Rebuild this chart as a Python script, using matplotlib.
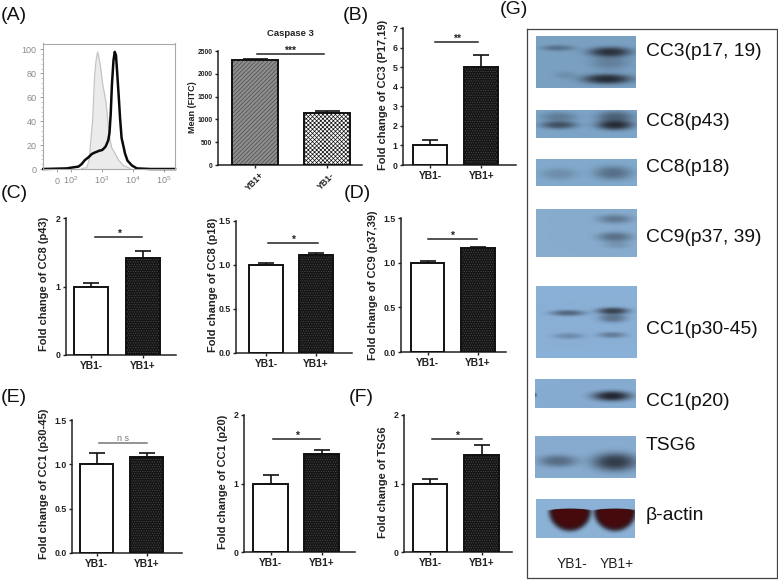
import numpy as np
import matplotlib
matplotlib.use("Agg")
import matplotlib.pyplot as plt

plt.rcParams['font.family'] = ['Liberation Sans', 'DejaVu Sans']
plt.rcParams['mathtext.default'] = 'regular'
plt.rcParams['hatch.linewidth'] = 0.5

W, H = 778, 580

# flow histogram, x in decades
flow_ctrl_x = [2.34, 2.51, 2.59, 2.63, 2.70, 2.76, 2.81, 2.86, 2.91, 2.97, 3.02, 3.08, 3.12, 3.18, 3.24, 3.31, 3.42, 3.53, 3.69, 3.90]
flow_ctrl_y = [0.5, 1, 8, 21, 41, 77, 91, 98, 92, 82, 71, 63, 57, 43, 27, 18, 13, 7.5, 3, 0.5]
flow_yb1_x = [1.11, 1.86, 2.08, 2.24, 2.34, 2.45, 2.56, 2.67, 2.75, 2.83, 2.91, 3.00, 3.06, 3.12, 3.20, 3.24, 3.28, 3.32, 3.37, 3.41, 3.45, 3.49, 3.54, 3.58, 3.63, 3.69, 3.74, 3.82, 3.96, 4.12, 4.55, 5.35]
flow_yb1_y = [0, 0.5, 1.4, 2, 4, 7.5, 9.7, 12.5, 13.6, 14.4, 15.3, 15.8, 17.2, 19, 24, 30, 46, 71, 91, 98, 95, 80, 60, 43, 26, 19, 13, 7, 3, 0.5, 0, 0]
flow_xticks = [1.55, 2, 3, 4, 5]
flow_xlabels = ['0', '$10^2$', '$10^3$', '$10^4$', '$10^5$']

# bar panels
groups = ['YB1-', 'YB1+']
groups_casp = ['YB1+', 'YB1-']
casp_mean = [2300, 1130]
casp_err = [25, 50]
cc3_mean = [1, 5]
cc3_err = [0.3, 0.6]
cc8_p43_mean = [1, 1.42]
cc8_p43_err = [0.05, 0.1]
cc8_p18_mean = [1, 1.11]
cc8_p18_err = [0.02, 0.03]
cc9_mean = [1, 1.16]
cc9_err = [0.02, 0.015]
cc1_p30_mean = [1, 1.08]
cc1_p30_err = [0.13, 0.045]
cc1_p20_mean = [1, 1.43]
cc1_p20_err = [0.12, 0.06]
tsg6_mean = [1, 1.42]
tsg6_err = [0.07, 0.14]

fig = plt.figure(figsize=(W / 100, H / 100), dpi=100)
bg = fig.add_axes([0, 0, 1, 1])
bg.set_axis_off()


def px_axes(left, right, bottom, top):
    return fig.add_axes([left / W, 1 - bottom / H, (right - left) / W, (bottom - top) / H])


def style_dark(ax, i, bar_w, val):
    # textured fill first, outline on top
    if i == 1:
        ax.bar(i, val, bar_w, facecolor='#141414', edgecolor='#4a4a4a', hatch='.......', lw=0, zorder=2)
    else:
        ax.bar(i, val, bar_w, facecolor='white', lw=0, zorder=2)


def style_casp(ax, i, bar_w, val):
    if i == 0:
        ax.bar(i, val, bar_w, facecolor='#8e8e8e', edgecolor='#4c4c4c', hatch='////////', lw=0, zorder=2)
    else:
        ax.bar(i, val, bar_w, facecolor='white', edgecolor='#111111', hatch='xxxxxxxx', lw=0, zorder=2)


def bar_panel(box, centers, bar_px, means, errs, ticks, fmt, ylabel, label_xy, sig, star='*',
              names=groups, filler=style_dark, size=6.3, rot=0, capsize=6, sig_color='#222222'):
    left, right, bottom, top = box
    ax = px_axes(left, right, bottom, top)
    step = centers[1] - centers[0]
    ax.set_xlim((left - centers[0]) / step, (right - centers[0]) / step)
    ax.set_ylim(0, ticks[-1])
    w = bar_px / step
    for i in range(2):
        filler(ax, i, w, means[i])
        ax.bar(i, means[i], w, facecolor='none', edgecolor='#111111', lw=1.4, zorder=3)
    ax.errorbar([0, 1], means, yerr=[[0, 0], errs], fmt='none', ecolor='#111111', elinewidth=1.2,
                capsize=capsize, capthick=1.2, zorder=1, clip_on=False)
    for s in ['top', 'right']:
        ax.spines[s].set_visible(False)
    for s in ['left', 'bottom']:
        ax.spines[s].set_linewidth(1.1)
        ax.spines[s].set_color('#222222')
    ax.set_yticks(ticks)
    ax.set_yticklabels([fmt.format(t) for t in ticks], fontweight='bold', fontsize=size, color='#222222')
    ax.set_xticks([0, 1])
    ax.set_xticklabels(names, fontweight='bold', fontsize=7.4 if rot == 0 else 6.3, color='#222222', rotation=rot)
    ax.tick_params(length=2.5, width=1, pad=1.5, color='#222222')
    ax.set_ylabel(ylabel, fontweight='bold', fontsize=8 if rot == 0 else 6.5, color='#222222', va='center')
    ax.yaxis.set_label_coords(label_xy[0], label_xy[1], transform=bg.transData)
    ax.plot(sig[:2], [sig[2], sig[2]], color=sig_color, lw=1.1, clip_on=False)
    ax.annotate(star, ((sig[0] + sig[1]) / 2, sig[2]), xytext=(0, 0 if star == 'n s' else -1), textcoords='offset points',
                ha='center', va='bottom', fontsize=6.5 if star == 'n s' else 7.5,
                fontweight='normal' if star == 'n s' else 'bold', color=sig_color, annotation_clip=False)
    return ax


# (A) flow histogram
flow = px_axes(43, 175, 169, 43.5)
flow.set_xlim(1.10, 5.35)
flow.set_ylim(0, 105)
flow.fill_between(flow_ctrl_x, flow_ctrl_y, color='#ebebeb', lw=0)
flow.plot(flow_ctrl_x, flow_ctrl_y, color='#c4c4c4', lw=0.9)
flow.plot(flow_yb1_x, flow_yb1_y, color='#0a0a0a', lw=1.8, clip_on=False)
flow.set_yticks([0, 20, 40, 60, 80, 100])
flow.set_yticks(np.arange(0, 101, 4), minor=True)
flow.set_xticks(flow_xticks)
flow.set_xticklabels(flow_xlabels)
flow.tick_params(labelsize=6.5, labelcolor='#8a8a8a', color='#a0a0a0', length=2.5, width=0.7, pad=2)
flow.tick_params(axis='x', pad=8)
for t in flow.get_xticklabels():
    t.set_verticalalignment('baseline')
flow.tick_params(which='minor', color='#b8b8b8', length=1.2, width=0.5)
for s in flow.spines.values():
    s.set_color('#aaaaaa')
    s.set_linewidth(0.8)

# (A) caspase bars
casp = bar_panel((218, 362, 165, 51), (255, 326.5), 46, casp_mean, casp_err,
                 [0, 500, 1000, 1500, 2000, 2500], '{:d}', 'Mean (FITC)', (193, 107),
                 (0.03, 0.96, 2434), '***', groups_casp, style_casp, 4.9, 45, 9)
casp.set_title('Caspase 3', fontweight='bold', fontsize=6.8, color='#222222', pad=10.5)

bar_panel((403, 516, 165, 28), (430, 481.5), 34, cc3_mean, cc3_err, [0, 1, 2, 3, 4, 5, 6, 7], '{:d}',
          'Fold change of CC3 (P17,19)', (383, 95), (0.1, 0.93, 6.28), '**')
bar_panel((66, 176, 355, 218), (91, 142.5), 34, cc8_p43_mean, cc8_p43_err, [0, 1, 2], '{:d}',
          'Fold change of CC8 (p43)', (44, 284), (0.08, 0.99, 1.72))
bar_panel((236, 352, 353, 221), (266, 316), 33.5, cc8_p18_mean, cc8_p18_err, [0, 0.5, 1.0, 1.5], '{:.1f}',
          'Fold change of CC8 (p18)', (213, 285), (0.04, 1.04, 1.25))
bar_panel((401, 506, 352, 218), (427.5, 478), 33.5, cc9_mean, cc9_err, [0, 0.5, 1.0, 1.5], '{:.1f}',
          'Fold change of CC9 (p37,39)', (373, 285), (0, 0.98, 1.265))
bar_panel((72, 182, 553, 420), (96.5, 146.5), 33, cc1_p30_mean, cc1_p30_err, [0, 0.5, 1.0, 1.5], '{:.1f}',
          'Fold change of CC1 (p30-45)', (44, 484), (0.05, 1.0, 1.24), 'n s', sig_color='#777777')
bar_panel((244, 355, 552, 415), (270.5, 321.5), 34.5, cc1_p20_mean, cc1_p20_err, [0, 1, 2], '{:d}',
          'Fold change of CC1 (p20)', (223, 482), (0.05, 0.98, 1.65))
bar_panel((404, 512, 552, 415), (430, 481.5), 34.5, tsg6_mean, tsg6_err, [0, 1, 2], '{:d}',
          'Fold change of TSG6', (383, 482), (0.04, 1.0, 1.65))

# (G) blots: name, box, background, bands (x, y, half width, half height, strength)
dark_band = (30, 32, 40)
blots = [
    ('CC3(p17, 19)', 52, (536, 636, 36, 88), (122, 160, 194), [
        (558, 48, 16, 3, 0.35), (610, 52, 21, 5, 0.85), (610, 62, 19, 8, 0.25),
        (607, 79, 24, 5, 0.9), (565, 75, 11, 4, 0.12)]),
    ('CC8(p43)', 122, (536, 637, 110, 138), (125, 165, 200), [
        (559, 125, 18, 4, 0.62), (559, 117, 18, 5, 0.3), (615, 125, 18, 5, 0.9), (615, 117, 18, 6, 0.5)]),
    ('CC8(p18)', 168, (536, 637, 159, 186), (130, 170, 205), [
        (559, 174, 18, 6, 0.2), (613, 173, 19, 7, 0.42)]),
    ('CC9(p37, 39)', 237, (536, 637, 209, 257), (135, 172, 206), [
        (615, 219, 17, 4.5, 0.35), (615, 237, 17, 5, 0.42), (617, 245, 13, 3.5, 0.15)]),
    ('CC1(p30-45)', 330, (536, 637, 286, 358), (138, 176, 214), [
        (568, 313, 17, 3, 0.5), (613, 311, 16, 3.5, 0.75), (613, 318, 14, 4.5, 0.42),
        (569, 336, 15, 3, 0.25), (612, 335, 14, 3, 0.35)]),
    ('CC1(p20)', 401, (535, 636, 379, 408), (135, 172, 210), [
        (612, 396, 19, 5, 0.95), (535, 395, 2, 2, 0.5)]),
    ('TSG6', 446, (535, 636, 436, 478), (135, 172, 208), [
        (558, 461, 19, 6, 0.45), (615, 462, 22, 9, 0.8)]),
]


def blot_image(box, back, bands, colour=dark_band):
    x0, x1, y0, y1 = box
    xx, yy = np.meshgrid(np.arange(x0, x1) + 0.5, np.arange(y0, y1) + 0.5)
    img = np.ones(xx.shape + (3,)) * np.array(back, dtype=float)
    for bx, by, hw, hy, strength in bands:
        d = ((xx - bx) / hw) ** 2 + ((yy - by) / hy) ** 2
        a = (strength * np.exp(-d ** 1.3))[..., None]
        img = img * (1 - a) + np.array(colour, dtype=float) * a
    return img


for name, label_y, box, back, bands in blots:
    bg.imshow(blot_image(box, back, bands) / 255, extent=(box[0], box[1], box[3], box[2]),
              interpolation='bilinear', aspect='auto')
    bg.text(646, label_y, name, fontsize=13.9, color='#111111', va='center', ha='left')

# beta-actin, half moon bands
actin_box = (536, 635, 499, 538)
actin_img = blot_image(actin_box, (140, 178, 214), [])
xx, yy = np.meshgrid(np.arange(536, 635) + 0.5, np.arange(499, 538) + 0.5)
for cx in (570, 615):
    hy = np.where(yy < 511, 2.5, 20)
    d = ((xx - cx) / 21) ** 2 + ((yy - 511) / hy) ** 2
    for colour, scale in (((20, 10, 15), 1.0), ((72, 10, 12), 0.8)):
        a = np.exp(-(d / scale) ** 4)[..., None]
        actin_img = actin_img * (1 - a) + np.array(colour, dtype=float) * a
bg.imshow(actin_img / 255, extent=(536, 635, 538, 499), interpolation='bilinear', aspect='auto')
bg.text(646, 516, 'β-actin', fontsize=13.9, color='#111111', va='center', ha='left')

bg.text(572.5, 564, 'YB1-', fontsize=10, color='#222222', ha='center', va='center')
bg.text(616.5, 564, 'YB1+', fontsize=10, color='#222222', ha='center', va='center')

# frame round (G)
bg.plot([527, 777, 777, 527, 527], [29, 29, 578, 578, 29], color='#444444', lw=0.9, clip_on=False)

# panel letters
panel_letters = ['(A)', '(B)', '(C)', '(D)', '(E)', '(F)', '(G)']
letter_x = [1, 343, 1, 344, 1, 349, 500]
letter_y = [16, 16, 193, 193, 397, 397, 10]
for s, x, y in zip(panel_letters, letter_x, letter_y):
    bg.text(x, y, s, fontsize=14, color='#111111', va='center', ha='left')

bg.set_xlim(0, W)
bg.set_ylim(H, 0)
bg.set_aspect('auto')

fig.savefig('out.png', dpi=100)
